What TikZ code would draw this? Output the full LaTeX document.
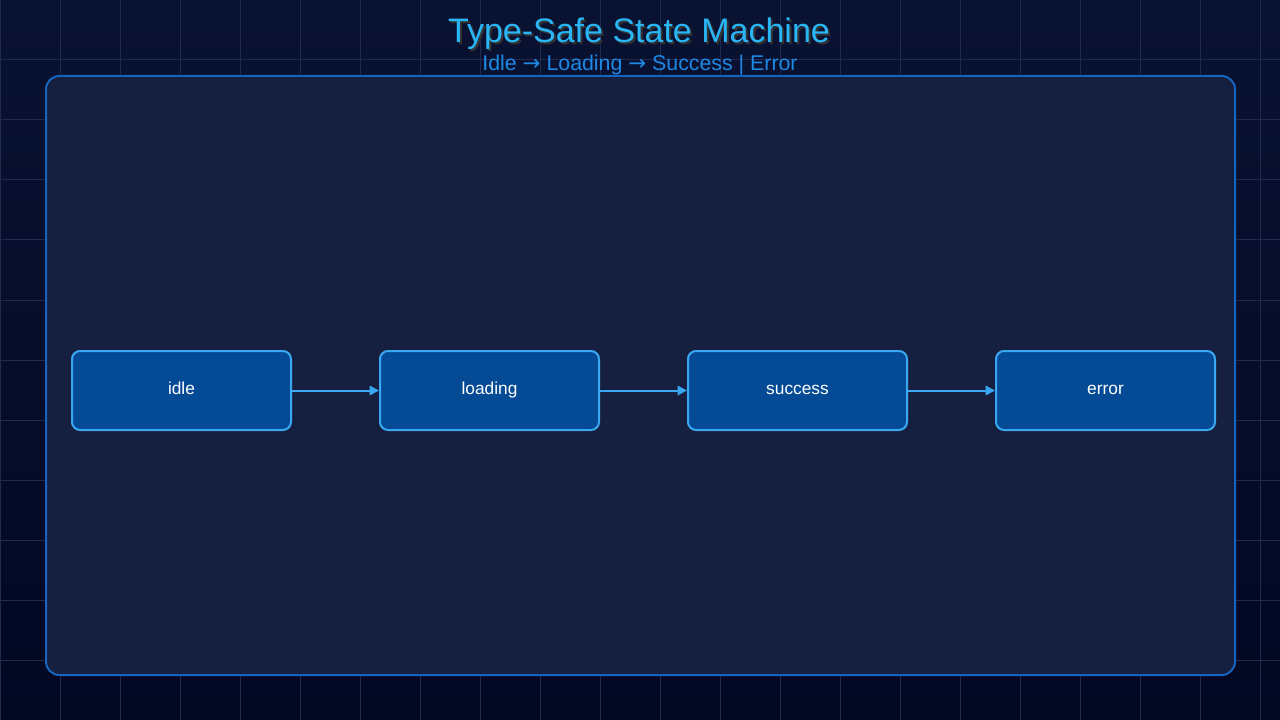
\documentclass[tikz,border=0pt]{standalone}
\usepackage{fontspec}
\setmainfont{Liberation Sans}
\newfontfamily\symfont{DejaVu Sans}
\usetikzlibrary{arrows.meta,positioning}
\definecolor{bgTop}{RGB}{10,18,50}
\definecolor{bgBot}{RGB}{2,7,34}
\definecolor{gridCol}{RGB}{32,42,78}
\definecolor{panelFill}{RGB}{22,31,63}
\definecolor{panelLine}{RGB}{21,101,192}
\definecolor{stateFill}{RGB}{4,74,148}
\definecolor{stateLine}{RGB}{58,168,240}
\definecolor{titleCol}{RGB}{41,182,246}
\definecolor{subCol}{RGB}{30,136,229}
\tikzset{every picture/.style={line width=0.75pt}}
\tikzset{
	state/.style={draw=stateLine, line width=1.5pt, fill=stateFill, rounded corners=6pt,
		minimum width=164.25pt, minimum height=59.25pt, inner sep=0pt, text=white,
		text height=9pt, text depth=3pt, font=\fontsize{13}{15}\selectfont},
	trans/.style={draw=stateLine, line width=1.5pt, -{Triangle[length=7pt,width=7pt]}}
}
\begin{document}
\begin{tikzpicture}[x=0.75pt,y=0.75pt,yscale=-1,xscale=1]
	\useasboundingbox (0,0) rectangle (1280,720);

	% background and grid
	\shade [top color=bgTop, bottom color=bgBot] (0,0) rectangle (1280,720);
	\foreach \gx in {0,60,...,1260} \draw [gridCol, line width=0.75pt] (\gx,0) -- (\gx,720);
	\foreach \gy in {0,60,...,720} \draw [gridCol, line width=0.75pt] (0,\gy) -- (1280,\gy);

	% panel
	\draw [panelLine, fill=panelFill, line width=1.5pt, rounded corners=10pt] (46,76) rectangle (1235,675);

	% title
	\node [text=black!80, font=\fontsize{25.5}{30}\selectfont] at (641,36) {Type-Safe State Machine};
	\node (title) [text=titleCol, font=\fontsize{25.5}{30}\selectfont] at (639,34) {Type-Safe State Machine};
	\node (subtitle) [text=subCol, font=\fontsize{16}{18}\selectfont] at (640,65) {Idle {\symfont →} Loading {\symfont →} Success | Error};

	% states
	\node (idle) [state] at (181.5,390.5) {idle};
	\node (loading) [state, right=65.25pt of idle] {loading};
	\node (success) [state, right=65.25pt of loading] {success};
	\node (error) [state, right=65.25pt of success] {error};

	\draw [trans] (idle) -- (loading);
	\draw [trans] (loading) -- (success);
	\draw [trans] (success) -- (error);

\end{tikzpicture}
\end{document}
